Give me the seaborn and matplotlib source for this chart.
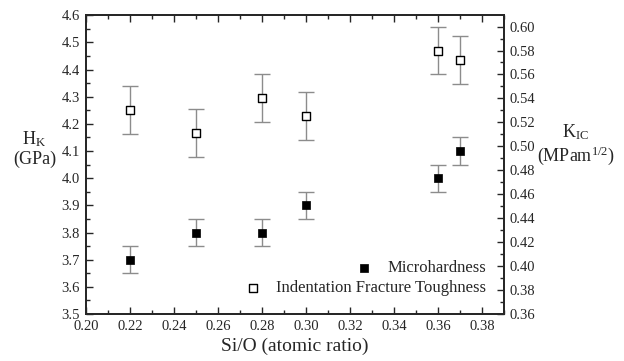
import matplotlib
matplotlib.use("Agg")
import matplotlib.pyplot as plt
import seaborn as sns
import pandas as pd
from matplotlib.ticker import MultipleLocator

# Dados
si_o = [0.22, 0.25, 0.28, 0.30, 0.36, 0.37]
hk = [3.70, 3.80, 3.80, 3.90, 4.00, 4.10]
hk_err = [0.05, 0.05, 0.05, 0.05, 0.05, 0.05]
kic = [0.530, 0.511, 0.540, 0.525, 0.580, 0.572]
kic_err = [0.02, 0.02, 0.02, 0.02, 0.02, 0.02]

df = pd.DataFrame({"SiO": si_o, "HK": hk, "HK_err": hk_err,
                   "KIC": kic, "KIC_err": kic_err})

sns.set_style("ticks")
plt.rcParams["font.family"] = ["Liberation Serif", "DejaVu Serif"]
plt.rcParams["mathtext.fontset"] = "custom"
plt.rcParams["mathtext.rm"] = "Liberation Serif"
plt.rcParams["mathtext.it"] = "Liberation Serif:italic"

fig = plt.figure(figsize=(6.24, 3.61), dpi=100)
ax = fig.add_axes([0.138, 0.130, 0.670, 0.828])
ax2 = ax.twinx()

err_color = "#8c8c8c"

# Microdureza (eixo esquerdo)
ax.errorbar(df.SiO, df.HK, yerr=df.HK_err, fmt="none", ecolor=err_color,
            elinewidth=1, capsize=6, capthick=1, zorder=1)
sns.scatterplot(data=df, x="SiO", y="HK", ax=ax, marker="s", s=28,
                color="black", edgecolor="black", linewidth=0.5, zorder=3,
                label="Microhardness", legend=False)

# Tenacidade à fratura (eixo direito)
ax2.errorbar(df.SiO, df.KIC, yerr=df.KIC_err, fmt="none", ecolor=err_color,
             elinewidth=1, capsize=6, capthick=1, zorder=1)
sns.scatterplot(data=df, x="SiO", y="KIC", ax=ax2, marker="s", s=32,
                color="white", edgecolor="black", linewidth=1, zorder=3,
                label="Indentation Fracture Toughness", legend=False)

# Eixos
ax.set_xlim(0.20, 0.39)
ax.set_ylim(3.5, 4.6)
ax2.set_ylim(0.36, 0.6095)
ax.xaxis.set_major_locator(MultipleLocator(0.02))
ax.xaxis.set_minor_locator(MultipleLocator(0.01))
ax.yaxis.set_major_locator(MultipleLocator(0.1))
ax.yaxis.set_minor_locator(MultipleLocator(0.05))
ax2.yaxis.set_major_locator(MultipleLocator(0.02))
ax2.yaxis.set_minor_locator(MultipleLocator(0.01))
ax.xaxis.set_major_formatter(lambda v, p: f"{v:.2f}")
ax.yaxis.set_major_formatter(lambda v, p: f"{v:.1f}")
ax2.yaxis.set_major_formatter(lambda v, p: f"{v:.2f}")

ax.tick_params(axis="x", which="both", direction="in", top=True,
               labelsize=10.5, pad=4.5)
ax.tick_params(axis="y", which="both", direction="in", right=False,
               labelsize=10.5, pad=4.5)
ax2.tick_params(axis="y", which="both", direction="in", labelsize=10.5)
for a in (ax, ax2):
    a.tick_params(which="major", length=5, width=1)
    a.tick_params(which="minor", length=3, width=1)
    for s in a.spines.values():
        s.set_linewidth(1.3)
        s.set_visible(True)

ax.set_xlabel("Si/O (atomic ratio)", fontsize=14, labelpad=3)
ax.set_ylabel("")
ax2.set_ylabel("")

fig.text(0.055, 0.588, "H$_{\\mathrm{K}}$\n(GPa)", ha="center", va="center",
         fontsize=13, linespacing=1.15)
fig.text(0.923, 0.600, "K$_{\\mathrm{IC}}$\n(MPam$^{1/2}$)", ha="center",
         va="center", fontsize=13, linespacing=1.15)

# Legendas alinhadas à direita
h1, l1 = ax.get_legend_handles_labels()
h2, l2 = ax2.get_legend_handles_labels()
leg1 = ax2.legend(h1, l1, loc="center right", bbox_to_anchor=(0.957, 0.154),
                  frameon=False, fontsize=12, handlelength=0.8,
                  handletextpad=1.0, borderpad=0, borderaxespad=0)
ax2.add_artist(leg1)
ax2.legend(h2, l2, loc="center right", bbox_to_anchor=(0.957, 0.087),
           frameon=False, fontsize=12, handlelength=0.8,
           handletextpad=1.0, borderpad=0, borderaxespad=0)

fig.savefig("out.png", dpi=100)
